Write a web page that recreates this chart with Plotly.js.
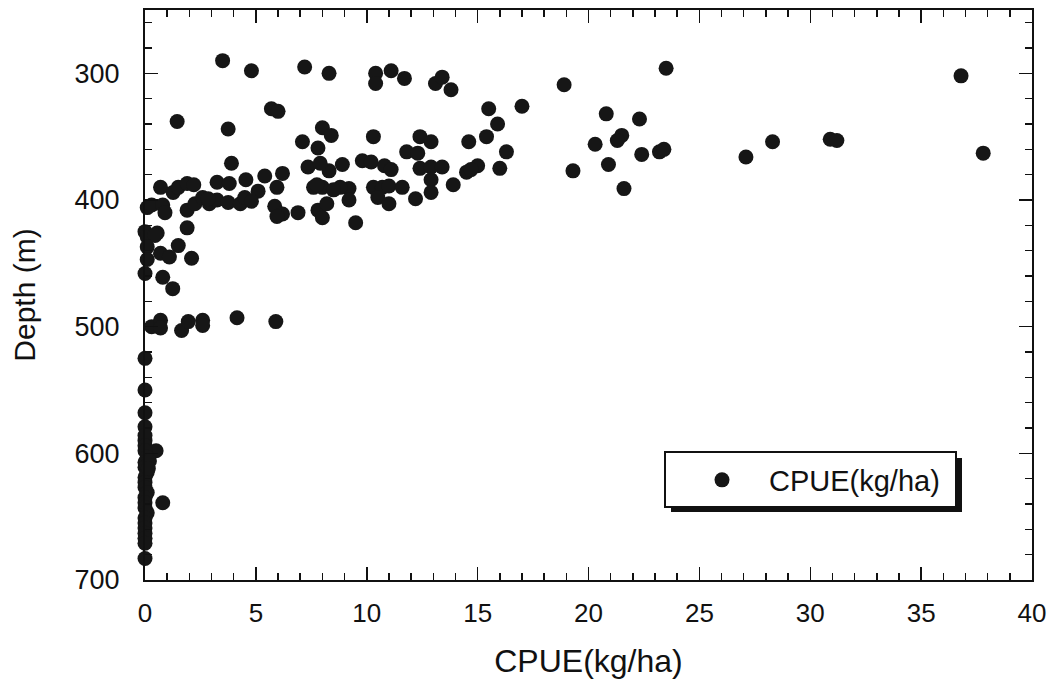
<!DOCTYPE html>
<html>
<head>
<meta charset="utf-8">
<script src="https://cdn.plot.ly/plotly-3.0.1.min.js"></script>
<style>html,body{margin:0;padding:0;background:#fff;}#chart{width:1057px;height:679px;}</style>
</head>
<body>
<div id="chart"></div>
<script>
// CPUE (kg/ha) values
const cpue = [
  3.5,4.8,7.2,8.3,10.4,10.4,11.1,11.7,13.1,13.4,13.8,
  15.5,15.9,17.0,15.4,16.3,16.0,14.6,10.3,12.4,12.9,11.8,12.3,
  12.4,12.9,13.4,12.9,12.9,14.5,15.0,14.7,13.9,12.2,
  9.8,10.2,10.8,11.1,8.9,8.3,10.3,10.7,11.0,11.6,10.5,11.0,
  9.2,8.8,9.2,9.5,8.0,8.4,
  23.5,18.9,20.8,22.3,21.5,21.3,20.3,22.4,23.2,23.4,20.9,19.3,21.6,
  27.1,28.3,30.9,31.2,36.8,37.8,
  1.45,3.75,5.7,6.0,7.1,7.8,3.9,7.35,7.9,
  0.7,1.27,1.5,1.9,2.2,3.25,3.8,4.55,5.4,6.2,5.95,5.1,
  0.1,0.3,0.8,0.9,1.9,2.25,2.6,2.9,3.25,2.85,3.75,4.3,4.5,4.8,
  5.85,6.2,5.95,6.9,7.8,8.0,8.2,7.6,8.0,8.5,7.75,
  0.0,0.55,1.9,0.1,0.45,0.1,0.1,0.0,0.7,1.1,1.5,2.1,0.8,1.25,
  0.3,0.7,0.7,1.65,1.95,2.6,2.6,4.15,5.9,
  0.0,0.0,0.0,0.0,0.0,0.5,0.8,0.0,
  0.0,0.0,0.0,0.1,0.0,0.0,0.1,0.0,0.0,0.0,0.1,0.0,0.0,0.0,0.1,0.0,0.0,0.0,0.0,0.0,0.0,0.2,0.15
];
// Depth (m) values
const depth = [
  290,298,295,300,300,308,298,304,308,303,313,
  328,340,326,350,362,375,354,350,350,354,362,363,
  375,374,374,384,394,378,373,376,388,399,
  369,370,373,376,372,377,390,390,389,390,398,403,
  391,390,400,418,343,349,
  296,309,332,336,349,353,356,364,362,360,372,377,391,
  366,354,352,353,302,363,
  338,344,328,330,354,359,371,374,371,
  390,394,390,387,388,386,387,384,381,379,390,393,
  406,404,404,410,408,403,398,403,400,399,402,403,398,401,
  405,411,413,410,408,414,403,390,390,392,388,
  425,426,422,429,428,437,447,458,442,445,436,446,461,470,
  500,495,501,503,496,495,499,493,496,
  525,550,568,579,590,598,639,683,
  586,594,598,603,607,611,615,619,623,627,631,635,639,643,647,651,655,659,663,667,671,606,612
];
const seriesName = 'CPUE(kg/ha)';
const xTitle = 'CPUE(kg/ha)';
const yTitle = 'Depth (m)';

const font = '"Liberation Sans", Arial, Helvetica, sans-serif';

const trace = {
  x: cpue, y: depth, type: 'scatter', mode: 'markers', name: seriesName,
  cliponaxis: false,
  marker: {color: '#161616', size: 15, line: {width: 0}}
};

const px2x = p => (p - 145) / 887;
const py2y = p => (580 - p) / 570;

const layout = {
  width: 1057, height: 679,
  margin: {l: 145, r: 25, t: 10, b: 99},
  paper_bgcolor: '#fff', plot_bgcolor: '#fff',
  font: {family: font, color: '#111'},
  showlegend: true,
  legend: {
    x: px2x(675), xanchor: 'left', y: py2y(480), yanchor: 'middle',
    bgcolor: 'rgba(0,0,0,0)', borderwidth: 0, itemwidth: 84,
    font: {size: 29, family: font, color: '#111'}
  },
  xaxis: {
    range: [0, 40], dtick: 5, tick0: 0,
    showgrid: false, zeroline: false,
    showline: true, linecolor: '#111', linewidth: 2, mirror: 'ticks',
    ticks: 'inside', ticklen: 13, tickwidth: 1.5, tickcolor: '#111',
    minor: {dtick: 1, ticks: 'inside', ticklen: 7, tickwidth: 1.5, tickcolor: '#111', showgrid: false},
    tickfont: {size: 26, family: font, color: '#111'},
    ticklabelstandoff: 9,
    title: {text: xTitle, font: {size: 32, family: font, color: '#111'}, standoff: 22}
  },
  yaxis: {
    range: [700, 250], dtick: 100, tick0: 300,
    showgrid: false, zeroline: false,
    showline: true, linecolor: '#111', linewidth: 2, mirror: 'ticks',
    ticks: 'inside', ticklen: 13, tickwidth: 1.5, tickcolor: '#111',
    minor: {dtick: 20, ticks: 'inside', ticklen: 7, tickwidth: 1.5, tickcolor: '#111', showgrid: false},
    tickfont: {size: 27, family: font, color: '#111'},
    ticklabelstandoff: 18,
    title: {text: yTitle, font: {size: 30, family: font, color: '#111'}, standoff: 30}
  },
  shapes: [
    {type: 'rect', xref: 'paper', yref: 'paper', layer: 'above',
     x0: px2x(671), x1: px2x(962), y0: py2y(512), y1: py2y(458),
     fillcolor: '#111', line: {width: 0}},
    {type: 'rect', xref: 'paper', yref: 'paper', layer: 'above',
     x0: px2x(665), x1: px2x(956), y0: py2y(507), y1: py2y(452),
     fillcolor: '#fff', line: {color: '#111', width: 2}}
  ]
};

Plotly.newPlot('chart', [trace], layout, {displayModeBar: false, staticPlot: true});
</script>
</body>
</html>
